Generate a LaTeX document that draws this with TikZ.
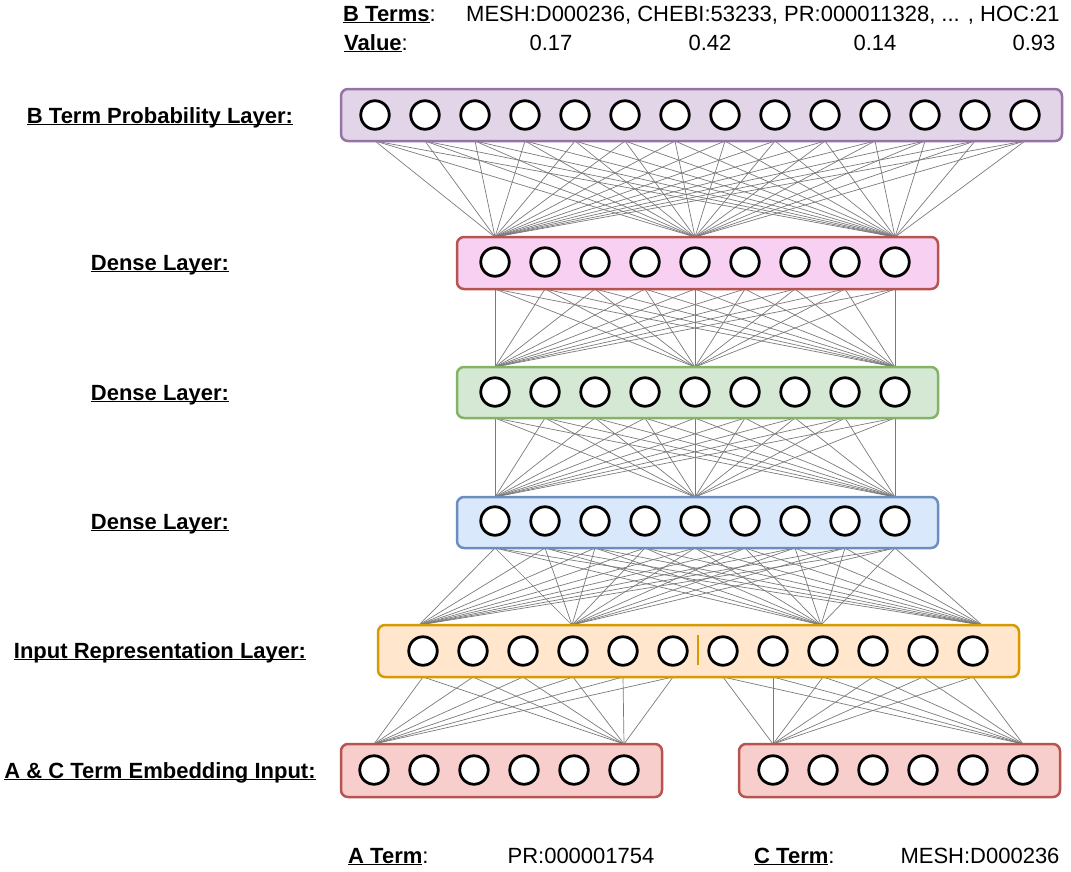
\documentclass[tikz,border=0pt]{standalone}
\usepackage{fontspec}
\setmainfont{Liberation Sans}
\usetikzlibrary{backgrounds}
\definecolor{bfill}{HTML}{E1D5E7}\definecolor{bdraw}{HTML}{9673A6}
\definecolor{pfill}{HTML}{F8D1F2}\definecolor{rdraw}{HTML}{B85450}
\definecolor{gfill}{HTML}{D5E8D4}\definecolor{gdraw}{HTML}{82B366}
\definecolor{lfill}{HTML}{DAE8FC}\definecolor{ldraw}{HTML}{6C8EBF}
\definecolor{ofill}{HTML}{FFE6CC}\definecolor{odraw}{HTML}{D79B00}
\definecolor{efill}{HTML}{F8CECC}
\definecolor{conncol}{HTML}{7A7A7A}
\newcommand\myul[1]{\underline{\smash{#1}}}
\begin{document}
\begin{tikzpicture}[x=1pt,y=-1pt,
  font=\fontsize{22}{26}\selectfont,
  neu/.style={circle,draw=black,fill=white,line width=2.8pt,minimum size=28.5pt,inner sep=0pt},
  lay/.style={rectangle,rounded corners=7pt,line width=2.5pt,inner sep=0pt,outer sep=0pt},
  conn/.style={draw=conncol,line width=0.7pt},
  lbl/.style={anchor=base,inner sep=0pt,font=\fontsize{22}{26}\selectfont\bfseries},
  txt/.style={inner sep=0pt}]
\useasboundingbox (0,0) rectangle (1071,871);

% header
\node[txt,anchor=base west] (bterms) at (343,21) {\myul{\textbf{B Terms}}:};
\node[txt,anchor=base west] (blist) at (466,21) {MESH:D000236, CHEBI:53233, PR:000011328, ... , HOC:21};
\node[txt,anchor=base west] (value) at (344,50) {\myul{\textbf{Value}}:};
\node[txt,anchor=base] (v1) at (551,50) {0.17};
\node[txt,anchor=base] (v2) at (710,50) {0.42};
\node[txt,anchor=base] (v3) at (875,50) {0.14};
\node[txt,anchor=base] (v4) at (1034,50) {0.93};

% left labels
\node[lbl] (lb) at (160,123) {\myul{B Term Probability Layer:}};
\node[lbl] (lda) at (160,270) {\myul{Dense Layer:}};
\node[lbl] (ldb) at (160,400) {\myul{Dense Layer:}};
\node[lbl] (ldc) at (160,529) {\myul{Dense Layer:}};
\node[lbl] (lin) at (160,658) {\myul{Input Representation Layer:}};
\node[lbl] (lem) at (160,778) {\myul{A \& C Term Embedding Input:}};

% bottom
\node[txt,anchor=base west] (aterm) at (348,863) {\myul{\textbf{A Term}}:};
\node[txt,anchor=base] (aval) at (581,863) {PR:000001754};
\node[txt,anchor=base west] (cterm) at (754,863) {\myul{\textbf{C Term}}:};
\node[txt,anchor=base] (cval) at (980,863) {MESH:D000236};

% layer boxes
\node[lay,fill=bfill,draw=bdraw,minimum width=721pt,minimum height=52pt] (bbox) at (701.5,115) {};
\node[lay,fill=pfill,draw=rdraw,minimum width=481pt,minimum height=52pt] (dabox) at (697.5,263) {};
\node[lay,fill=gfill,draw=gdraw,minimum width=481pt,minimum height=51pt] (dbbox) at (697.5,392.5) {};
\node[lay,fill=lfill,draw=ldraw,minimum width=481pt,minimum height=51pt] (dcbox) at (697.5,522.5) {};
\node[lay,fill=ofill,draw=odraw,minimum width=641pt,minimum height=52pt] (inbox) at (698.5,651) {};
\node[lay,fill=efill,draw=rdraw,minimum width=321pt,minimum height=53pt] (eabox) at (501.5,770.5) {};
\node[lay,fill=efill,draw=rdraw,minimum width=321pt,minimum height=53pt] (ecbox) at (899.5,770.5) {};

% neurons
\foreach \i in {1,...,14} \node[neu] (b\i) at ({375+50*(\i-1)},115) {};
\foreach \i in {1,...,9} {
  \node[neu] (da\i) at ({495+50*(\i-1)},262) {};
  \node[neu] (db\i) at ({495+50*(\i-1)},392) {};
  \node[neu] (dc\i) at ({495+50*(\i-1)},521) {};
}
\foreach \i in {1,...,12} \node[neu] (in\i) at ({423+50*(\i-1)+(\i>6 ? 0 : 0)},651) {};
\foreach \i in {1,...,6} {
  \node[neu] (ea\i) at ({374+50*(\i-1)},770) {};
  \node[neu] (ec\i) at ({773+50*(\i-1)},770) {};
}
\draw[draw=odraw,line width=2.5pt] (698,635) -- (698,665);

% targets on input layer
\coordinate (t1) at (419,625);
\coordinate (t2) at (572,625);
\coordinate (t3) at (821,625);
\coordinate (t4) at (982,625);

% connectors
\begin{scope}[on background layer]
\foreach \i in {1,...,14} \foreach \j in {1,5,9}
  \draw[conn] (b\i |- bbox.south) -- (da\j |- dabox.north);
\foreach \i in {1,...,9} \foreach \j in {1,5,9} {
  \draw[conn] (da\i |- dabox.south) -- (db\j |- dbbox.north);
  \draw[conn] (db\i |- dbbox.south) -- (dc\j |- dcbox.north);
}
\foreach \i in {1,...,9} \foreach \j in {1,...,4}
  \draw[conn] (dc\i |- dcbox.south) -- (t\j);
\foreach \i in {1,...,6} \foreach \j in {1,6}
  \draw[conn] (in\i |- inbox.south) -- (ea\j |- eabox.north);
\foreach \i in {7,...,12} \foreach \j in {1,6}
  \draw[conn] (in\i |- inbox.south) -- (ec\j |- ecbox.north);
\end{scope}
\end{tikzpicture}
\end{document}
